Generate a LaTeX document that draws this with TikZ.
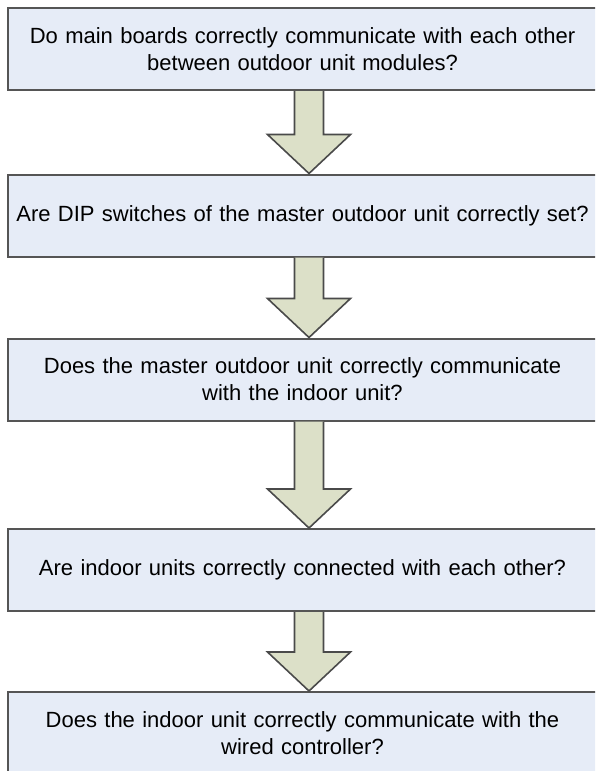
\documentclass[tikz,border=0pt]{standalone}
\usepackage{fontspec}
\setmainfont{Liberation Sans}
\usetikzlibrary{calc}
\definecolor{boxfill}{HTML}{E6ECF7}
\definecolor{boxline}{HTML}{555555}
\definecolor{arrfill}{HTML}{DCE0C8}
\definecolor{arrline}{HTML}{4A4A4A}
\newcommand\fatarrow[2]{%
  \draw[fatarrowstyle]
    ($(#1)+(-14.5,0)$) -- ($(#2)+(-14.5,-39)$) -- ($(#2)+(-41.5,-39)$) -- (#2)
    -- ($(#2)+(41.5,-39)$) -- ($(#2)+(14.5,-39)$) -- ($(#1)+(14.5,0)$);}
\begin{document}
\begin{tikzpicture}[x=1pt,y=-1pt,
  qbox/.style={draw=boxline,line width=2pt,fill=boxfill,rectangle,
    minimum width=581pt,minimum height=82pt,inner sep=0pt,
    text width=590pt,align=center,
    font=\fontsize{22}{27}\selectfont},
  fatarrowstyle/.style={draw=arrline,line width=1.6pt,fill=arrfill,line join=miter}]
\useasboundingbox (0,0) rectangle (595,771);
\clip (0,0) rectangle (595,771);
\fill[white] (0,0) rectangle (595,771);
\node[qbox] (b1) at (302.5,49) {Do main boards correctly communicate with each other\\between outdoor unit modules?};
\node[qbox] (b2) at (302.5,215.5) {Are DIP switches of the master outdoor unit correctly set?\\[-6pt]};
\node[qbox] (b3) at (302.5,379.5) {Does the master outdoor unit correctly communicate\\with the indoor unit?\\[-8pt]};
\node[qbox] (b4) at (302.5,570) {Are indoor units correctly connected with each other?\\[4pt]};
\node[qbox] (b5) at (302.5,733) {Does the indoor unit correctly communicate with the\\wired controller?};
\foreach \a/\b in {b1/b2,b2/b3,b3/b4,b4/b5}{
  \coordinate (s) at ($(\a.south)+(6.5,0)$);
  \coordinate (t) at ($(\b.north)+(6.5,0)$);
  \fatarrow{s}{t}
}
\end{tikzpicture}
\end{document}
